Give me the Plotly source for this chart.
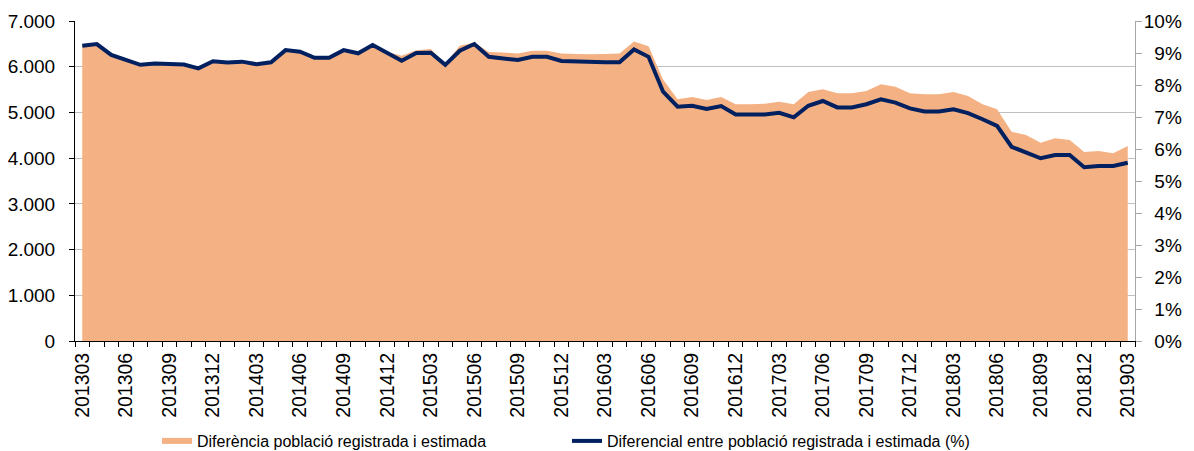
import plotly.graph_objects as go

# ---- data -------------------------------------------------------------
periods = [f"{y}{m:02d}" for y in range(2013, 2020) for m in range(1, 13)]
periods = periods[periods.index("201303"):periods.index("201903") + 1]

diff_pop = [6450, 6490, 6260, 6150, 6040, 6070, 6070, 6050, 5970, 6120,
            6090, 6110, 6060, 6100, 6370, 6330, 6200, 6200, 6370, 6300,
            6480, 6320, 6240, 6360, 6390, 6070, 6460, 6530, 6320, 6310,
            6290, 6350, 6350, 6290, 6280, 6270, 6280, 6290, 6550, 6450,
            5720, 5290, 5340, 5270, 5340, 5180, 5180, 5190, 5236, 5177,
            5447, 5505, 5418, 5418, 5469, 5615, 5564, 5418, 5396, 5400,
            5447, 5359, 5177, 5068, 4580, 4505, 4339, 4433, 4396, 4133,
            4155, 4105, 4265]

diff_pct = [9.23, 9.28, 8.94, 8.78, 8.63, 8.67, 8.67, 8.64, 8.52, 8.74,
            8.70, 8.73, 8.65, 8.71, 9.09, 9.04, 8.85, 8.85, 9.09, 8.99,
            9.25, 9.01, 8.76, 9.00, 9.01, 8.63, 9.07, 9.28, 8.88, 8.83,
            8.78, 8.88, 8.88, 8.75, 8.73, 8.70, 8.71, 8.71, 9.11, 8.88,
            7.79, 7.32, 7.35, 7.25, 7.34, 7.08, 7.08, 7.08, 7.13, 6.99,
            7.35, 7.50, 7.30, 7.30, 7.40, 7.55, 7.45, 7.27, 7.17, 7.17,
            7.24, 7.12, 6.93, 6.72, 6.07, 5.90, 5.71, 5.81, 5.81, 5.43,
            5.47, 5.47, 5.57]

name_area = "Diferència població registrada i estimada"
name_line = "Diferencial entre població registrada i estimada (%)"

left_ticks = [0, 1000, 2000, 3000, 4000, 5000, 6000, 7000]
right_ticks = list(range(0, 11))
# single-digit labels padded with a figure space so labels line up on the right
right_labels = [f"{v}%" if v >= 10 else f"\u2007{v}%" for v in right_ticks]

# ---- figure -----------------------------------------------------------
idx = list(range(len(periods)))
FONT = "Liberation Sans, Arial, sans-serif"

fig = go.Figure()
fig.add_trace(go.Scatter(
    x=idx, y=diff_pop, name=name_area, mode="none", fill="tozeroy",
    fillcolor="#F4B183", legend="legend", hoverinfo="skip"))
fig.add_trace(go.Scatter(
    x=idx, y=diff_pct, name=name_line, mode="lines", yaxis="y2",
    line=dict(color="#002060", width=4), legend="legend2"))

xr = [-0.5, len(periods) - 0.5]
bounds = [i - 0.5 for i in range(len(periods) + 1)]

# page body has an 8px margin, so the figure is sized 8px smaller
fig.update_layout(
    width=1186, height=443,
    margin=dict(l=67, r=59, t=13, b=110, autoexpand=False),
    paper_bgcolor="white", plot_bgcolor="white",
    font=dict(family=FONT, size=19, color="black"),
    separators=",.",
    showlegend=True,
    xaxis=dict(
        range=xr, tickmode="array",
        tickvals=idx[::3], ticktext=periods[::3],
        tickangle=-90, ticks="", showgrid=False, zeroline=False,
        showline=True, linecolor="black", linewidth=1,
        tickfont=dict(size=19.5),
        minor=dict(tickmode="array", tickvals=bounds, ticks="outside",
                   ticklen=5, tickcolor="black", showgrid=False),
        ticklabelstandoff=3, automargin=False,
    ),
    xaxis3=dict(
        range=xr, overlaying="x", anchor="y", showticklabels=False,
        ticks="", showgrid=False, zeroline=False, showline=False,
        minor=dict(tickmode="array", tickvals=bounds, ticks="inside",
                   ticklen=5, tickcolor="black", showgrid=False),
    ),
    yaxis=dict(
        range=[0, 7000], tickmode="array", tickvals=left_ticks,
        tickformat=",d", showgrid=True, gridcolor="#BFBFBF", gridwidth=1,
        zeroline=False, showline=True, linecolor="black", linewidth=1,
        ticks="outside", ticklen=5, tickcolor="black",
        ticklabelstandoff=10, automargin=False,
    ),
    yaxis3=dict(
        range=[0, 7000], overlaying="y", anchor="x", side="left",
        tickmode="array", tickvals=left_ticks, showticklabels=False,
        ticks="inside", ticklen=5, tickcolor="black",
        showgrid=False, zeroline=False, showline=False,
    ),
    yaxis2=dict(
        range=[0, 10], overlaying="y", side="right", anchor="x",
        tickmode="array", tickvals=right_ticks, ticktext=right_labels,
        showgrid=False, zeroline=False, showline=True,
        linecolor="#A6A6A6", linewidth=1,
        ticks="outside", ticklen=6, tickcolor="#A6A6A6",
        ticklabelstandoff=-2, automargin=False,
    ),
    legend=dict(x=(157 - 75) / 1060, y=(341 - 441) / 320, xanchor="left",
                yanchor="middle", orientation="h",
                font=dict(size=16, family=FONT), bgcolor="rgba(0,0,0,0)"),
    legend2=dict(x=(567 - 75) / 1060, y=(341 - 441) / 320, xanchor="left",
                 yanchor="middle", orientation="h",
                 font=dict(size=16, family=FONT), bgcolor="rgba(0,0,0,0)"),
)

fig.write_html("out.html")
